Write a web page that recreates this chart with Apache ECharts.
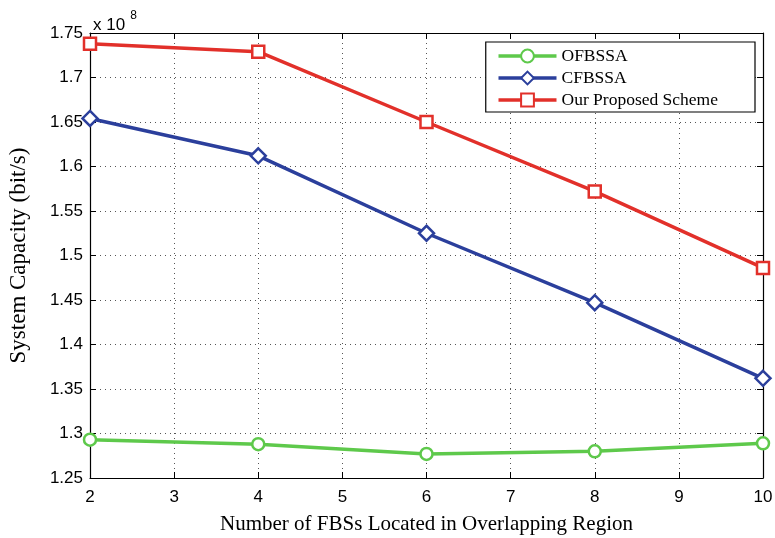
<!DOCTYPE html>
<html>
<head>
<meta charset="utf-8">
<script src="https://cdn.jsdelivr.net/npm/echarts@6/dist/echarts.min.js"></script>
<style>html,body{margin:0;padding:0;background:#fff;}#c{width:775px;height:538px;}</style>
</head>
<body>
<div id="c"></div>
<script>
const xValues = [2, 4, 6, 8, 10];
const ofbssa = [1.293, 1.288, 1.277, 1.280, 1.289];
const cfbssa = [1.654, 1.612, 1.525, 1.447, 1.362];
const proposed = [1.738, 1.729, 1.650, 1.572, 1.486];
const seriesNames = ['OFBSSA', 'CFBSSA', 'Our Proposed Scheme'];

const toPairs = arr => xValues.map((x, i) => [x, arr[i]]);
const chart = echarts.init(document.getElementById('c'));
const serif = 'Liberation Serif';
const sans = 'Liberation Sans';
const tickStyle = { show: true, inside: true, length: 6, lineStyle: { color: '#000', width: 1 } };
const gridLine = { show: true, lineStyle: { color: '#555', type: [1, 4], width: 1 } };

function mk(name, data, color, symbol) {
  return {
    name, type: 'line', data: toPairs(data),
    symbol, symbolSize: symbol === 'diamond' ? 15 : 12,
    lineStyle: { color, width: 3.5 },
    itemStyle: { color: '#fff', borderColor: color, borderWidth: 2.5 },
    emphasis: { disabled: true },
    animation: false
  };
}

chart.setOption({
  animation: false,
  grid: { left: 90, right: 12, top: 33, bottom: 60, outerBoundsMode: 'none', containLabel: false },
  title: {
    text: '{a|x 10}{b|8}', left: 88, top: 5,
    textStyle: { fontWeight: 'normal', rich: {
      a: { fontFamily: sans, fontSize: 17, fontWeight: 'normal', color: '#000', verticalAlign: 'bottom' },
      b: { fontFamily: sans, fontSize: 12, fontWeight: 'normal', color: '#000', padding: [0, 0, 12, 5] }
    } }
  },
  legend: {
    data: seriesNames,
    orient: 'vertical', right: 20, top: 42,
    backgroundColor: '#fff', borderColor: '#000', borderWidth: 1.2,
    padding: [5, 37, 3, 11], itemGap: 4, itemWidth: 58, itemHeight: 16,
    lineStyle: { width: 3.5 },
    textStyle: { fontFamily: serif, fontSize: 17.5, color: '#000' }
  },
  xAxis: [{
    type: 'value', min: 2, max: 10, interval: 1,
    name: 'Number of FBSs Located in Overlapping Region', nameLocation: 'middle', nameGap: 36,
    nameTextStyle: { fontFamily: serif, fontSize: 21, color: '#000' },
    axisLine: { show: true, lineStyle: { color: '#000', width: 1.2 } },
    axisTick: tickStyle, splitLine: gridLine,
    axisLabel: { fontFamily: sans, fontSize: 17, color: '#000', margin: 11 }
  }, {
    type: 'value', position: 'top', min: 2, max: 10, interval: 1,
    axisLine: { show: true, lineStyle: { color: '#000', width: 1.2 } },
    axisTick: tickStyle, splitLine: { show: false }, axisLabel: { show: false }
  }],
  yAxis: [{
    type: 'value', min: 1.25, max: 1.75, interval: 0.05,
    name: 'System Capacity (bit/s)', nameLocation: 'middle', nameGap: 60,
    nameTextStyle: { fontFamily: serif, fontSize: 23, color: '#000' },
    axisLine: { show: true, lineStyle: { color: '#000', width: 1.2 } },
    axisTick: tickStyle, splitLine: gridLine,
    axisLabel: { fontFamily: sans, fontSize: 17, color: '#000', margin: 7,
      formatter: v => String(parseFloat(v.toFixed(2))) }
  }, {
    type: 'value', position: 'right', min: 1.25, max: 1.75, interval: 0.05,
    axisLine: { show: true, lineStyle: { color: '#000', width: 1.2 } },
    axisTick: tickStyle, splitLine: { show: false }, axisLabel: { show: false }
  }],
  series: [
    mk(seriesNames[0], ofbssa, '#5ec94b', 'circle'),
    mk(seriesNames[1], cfbssa, '#2b3f9c', 'diamond'),
    mk(seriesNames[2], proposed, '#e2302a', 'rect')
  ]
});
</script>
</body>
</html>
